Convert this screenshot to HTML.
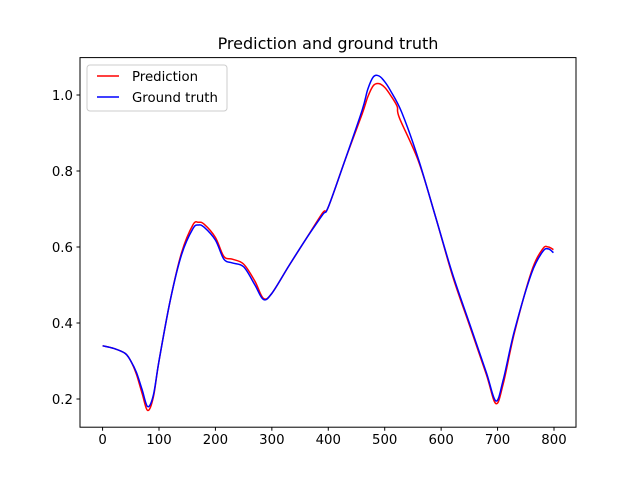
<!DOCTYPE html>
<html><head><meta charset="utf-8"><style>
body{margin:0;background:#fff}
svg{display:block;font-family:"DejaVu Sans","Liberation Sans",sans-serif}
</style></head><body>
<svg id="chart" width="640" height="480" xmlns="http://www.w3.org/2000/svg">
<rect width="640" height="480" fill="#fff"/>
<text x="328" y="49" text-anchor="middle" font-size="16">Prediction and ground truth</text>
<g id="grid"></g>
<g id="series"></g>
<rect x="80" y="57.6" width="496" height="369.6" fill="none" stroke="#000" stroke-width="1"/>
<g>
<rect x="87" y="65" width="140" height="46" rx="3" fill="#fff" fill-opacity="0.8" stroke="#ccc"/>
<line x1="97" y1="76" x2="119" y2="76" stroke="red" stroke-width="1.5"/>
<text x="132" y="81" font-size="13.3">Prediction</text>
<line x1="97" y1="97" x2="119" y2="97" stroke="blue" stroke-width="1.5"/>
<text x="132" y="102" font-size="13.3">Ground truth</text>
</g>
</svg>
<script>
const xTicks=[0,100,200,300,400,500,600,700,800];
const yTicks=[0.2,0.4,0.6,0.8,1.0];
const yTickLabels=["0.2","0.4","0.6","0.8","1.0"];
const truthX=[0,20,40,50,60,70,80,90,100,120,140,160,170,180,200,215,230,250,270,285,300,330,360,390,400,430,460,470,480,490,500,510,530,560,590,620,650,680,697,710,730,760,780,790,799];
const truthY=[0.34,0.333,0.32,0.30,0.27,0.225,0.18,0.21,0.30,0.46,0.58,0.648,0.658,0.652,0.618,0.568,0.558,0.548,0.50,0.462,0.478,0.55,0.62,0.685,0.705,0.83,0.96,1.015,1.048,1.05,1.035,1.012,0.955,0.83,0.68,0.53,0.40,0.27,0.195,0.25,0.38,0.53,0.588,0.595,0.585];
const predX=[0,20,40,50,60,70,80,90,100,120,140,160,170,180,200,215,230,250,270,285,300,330,360,390,400,430,460,470,480,490,500,510,522,526,560,590,620,650,680,697,710,730,760,780,790,799];
const predY=[0.34,0.333,0.32,0.30,0.265,0.215,0.17,0.205,0.30,0.46,0.585,0.658,0.665,0.66,0.625,0.575,0.568,0.555,0.51,0.465,0.478,0.55,0.62,0.69,0.705,0.83,0.95,0.995,1.025,1.03,1.02,1.0,0.97,0.94,0.825,0.68,0.525,0.395,0.265,0.188,0.24,0.375,0.535,0.595,0.6,0.593];
const L=80,R=576,T=57.6,B=427.2,x0=-40,x1=839,yv0=0.2-(427.2-399)/380,yv1=0.2+(399-57.6)/380;
const sx=v=>L+(v-x0)/(x1-x0)*(R-L);
const sy=v=>B-(v-yv0)/(yv1-yv0)*(B-T);
const NS="http://www.w3.org/2000/svg";
const g=document.getElementById('grid'),s=document.getElementById('series');
function mk(tag,attrs,parent){const e=document.createElementNS(NS,tag);for(const k in attrs)e.setAttribute(k,attrs[k]);parent.appendChild(e);return e;}
xTicks.forEach(t=>{
 const l=mk('line',{x1:sx(t),x2:sx(t),y1:B,y2:B+3.5,stroke:'#000'},g);
 
 
 const tx=mk('text',{x:sx(t),y:B+17,'text-anchor':'middle','font-size':'13.3'},g);tx.textContent=t;
 
 
});
yTicks.forEach((t,i)=>{
 const l=mk('line',{x1:L-3.5,x2:L,y1:sy(t),y2:sy(t),stroke:'#000'},g);
 
 
 const tx=mk('text',{x:L-7,y:sy(t)+5,'text-anchor':'end','font-size':'13.3'},g);tx.textContent=yTickLabels[i];
 
 
});
function path(xs,ys){
 const p=xs.map((x,i)=>[sx(x),sy(ys[i])]);
 let d='M'+p[0][0]+','+p[0][1];
 for(let i=0;i<p.length-1;i++){
  const a=p[Math.max(i-1,0)],b=p[i],c=p[i+1],e=p[Math.min(i+2,p.length-1)];
  d+=` C${b[0]+(c[0]-a[0])/6},${b[1]+(c[1]-a[1])/6} ${c[0]-(e[0]-b[0])/6},${c[1]-(e[1]-b[1])/6} ${c[0]},${c[1]}`;
 }
 return d;
}
const pp=mk('path',{d:path(predX,predY),fill:'none',stroke:'red','stroke-width':1.5},s);


const tp=mk('path',{d:path(truthX,truthY),fill:'none',stroke:'blue','stroke-width':1.5},s);


</script>
</body></html>
